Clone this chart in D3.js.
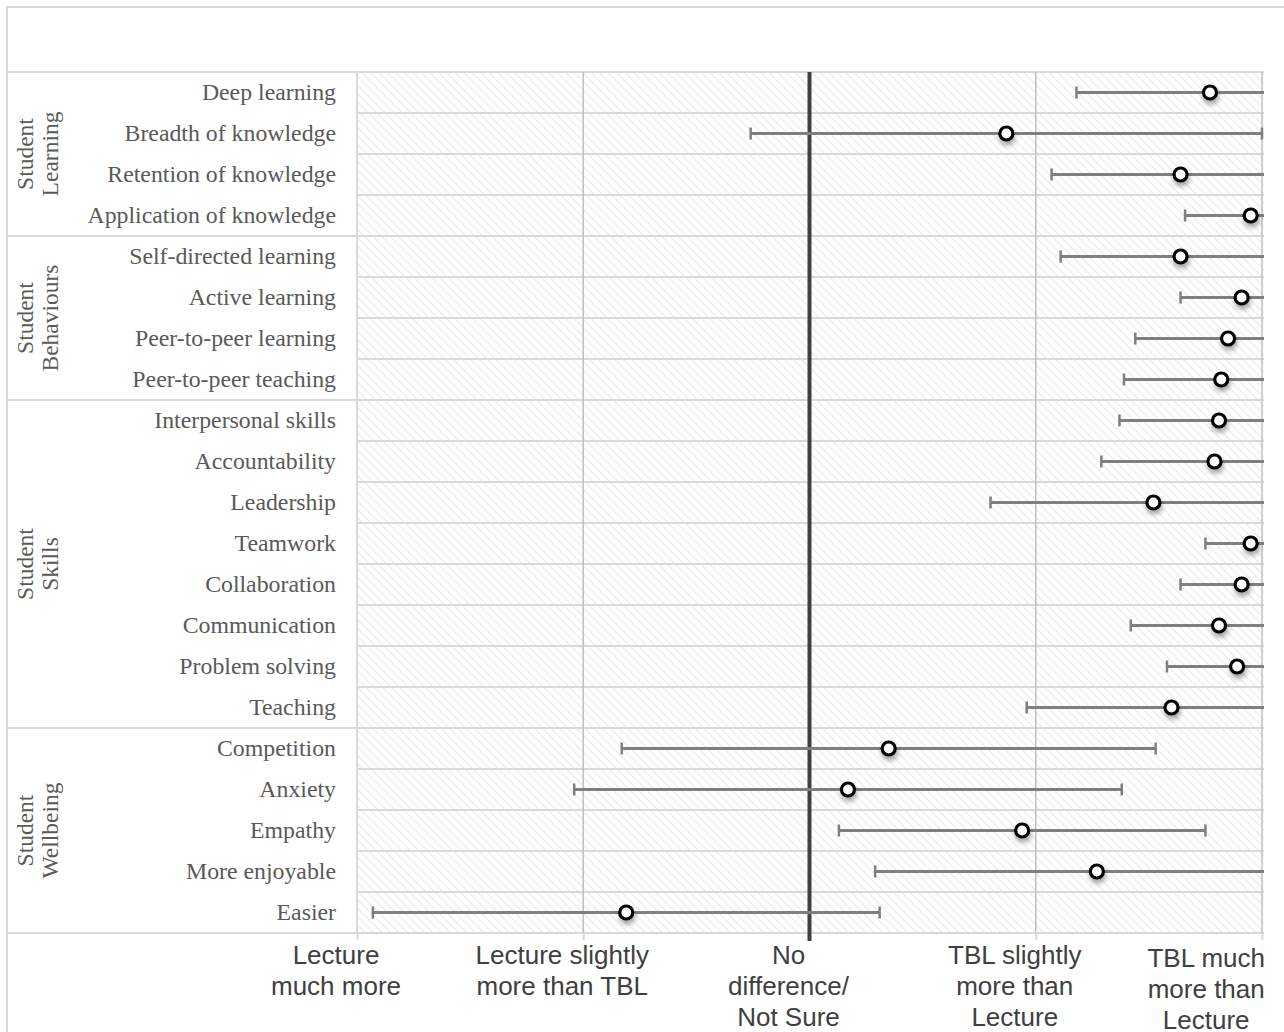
<!DOCTYPE html>
<html>
<head>
<meta charset="utf-8">
<script src="https://cdn.jsdelivr.net/npm/d3@7"></script>
<style>
  html, body { margin: 0; padding: 0; background: #fff; }
  svg { display: block; }
</style>
</head>
<body>
<div id="chart"></div>
<script>
// categories, top to bottom
const categories = [
  "Deep learning", "Breadth of knowledge", "Retention of knowledge", "Application of knowledge",
  "Self-directed learning", "Active learning", "Peer-to-peer learning", "Peer-to-peer teaching",
  "Interpersonal skills", "Accountability", "Leadership", "Teamwork", "Collaboration",
  "Communication", "Problem solving", "Teaching",
  "Competition", "Anxiety", "Empathy", "More enjoyable", "Easier"
];

// mean rating (1 = lecture much more ... 5 = TBL much more than lecture)
const means = [
  4.77, 3.87, 4.64, 4.95,
  4.64, 4.91, 4.85, 4.82,
  4.81, 4.79, 4.52, 4.95, 4.91, 4.81, 4.89, 4.60,
  3.35, 3.17, 3.94, 4.27, 2.19
];

// error bar half-width
const errors = [
  0.59, 1.13, 0.57, 0.29,
  0.53, 0.27, 0.41, 0.43,
  0.44, 0.50, 0.72, 0.20, 0.27, 0.39, 0.31, 0.64,
  1.18, 1.21, 0.81, 0.98, 1.12
];

const groupNames = [["Student", "Learning"], ["Student", "Behaviours"], ["Student", "Skills"], ["Student", "Wellbeing"]];
const groupSizes = [4, 4, 8, 5];

const tickValues = [1, 2, 3, 4, 5];
const tickLabels = [
  ["Lecture", "much more"],
  ["Lecture slightly", "more than TBL"],
  ["No", "difference/", "Not Sure"],
  ["TBL slightly", "more than", "Lecture"],
  ["TBL much", "more than", "Lecture"]
];

const W = 1284, H = 1032;
const mLeft = 357, mRight = 1262, mTop = 72, mBottom = 933;
const gridGray = "#d9d9d9";

const svg = d3.select("#chart").append("svg")
  .attr("width", W)
  .attr("height", H);

const defs = svg.append("defs");

// hatched background
const pat = defs.append("pattern")
  .attr("id", "hatch")
  .attr("width", 6)
  .attr("height", 6)
  .attr("patternUnits", "userSpaceOnUse")
  .attr("patternTransform", "rotate(-45)");
pat.append("rect").attr("width", 6).attr("height", 6).attr("fill", "#fff");
pat.append("line")
  .attr("x1", 0).attr("y1", 0).attr("x2", 0).attr("y2", 6)
  .attr("stroke", "#ebebeb")
  .attr("stroke-width", 2.5);

// marker shadow
const flt = defs.append("filter")
  .attr("id", "shadow")
  .attr("x", "-100%").attr("y", "-100%")
  .attr("width", "300%").attr("height", "300%");
flt.append("feDropShadow")
  .attr("dx", 1).attr("dy", 4)
  .attr("stdDeviation", 2.5)
  .attr("flood-color", "#000")
  .attr("flood-opacity", 0.35);

defs.append("clipPath").attr("id", "plotClip")
  .append("rect")
  .attr("x", mLeft - 2).attr("y", mTop)
  .attr("width", mRight - mLeft + 4).attr("height", mBottom - mTop);

const x = d3.scaleLinear().domain([1, 5]).range([mLeft, mRight]);
const y = d3.scaleBand().domain(categories).range([mTop, mBottom]);

// outer frame
svg.append("path")
  .attr("d", `M7,${H} V7 H${W}`)
  .attr("fill", "none")
  .attr("stroke", gridGray)
  .attr("stroke-width", 2);

// plot background
svg.append("rect")
  .attr("x", mLeft).attr("y", mTop)
  .attr("width", mRight - mLeft + 2).attr("height", mBottom - mTop)
  .attr("fill", "url(#hatch)");

// row separators inside the plot
svg.append("g")
  .selectAll("line")
  .data(categories.slice(1))
  .join("line")
  .attr("x1", mLeft).attr("x2", mRight + 2)
  .attr("y1", d => y(d)).attr("y2", d => y(d))
  .attr("stroke", gridGray)
  .attr("stroke-width", 2);

// group boundaries across the label area
const groupStarts = d3.cumsum([0].concat(groupSizes)).slice(0, groupSizes.length);
const boundaries = [0].concat(Array.from(d3.cumsum(groupSizes)));
svg.append("g")
  .selectAll("line")
  .data(boundaries)
  .join("line")
  .attr("x1", 7).attr("x2", mRight + 2)
  .attr("y1", i => i < categories.length ? y(categories[i]) : mBottom)
  .attr("y2", i => i < categories.length ? y(categories[i]) : mBottom)
  .attr("stroke", gridGray)
  .attr("stroke-width", 2);

// left edge of plot
svg.append("line")
  .attr("x1", mLeft).attr("x2", mLeft)
  .attr("y1", mTop).attr("y2", mBottom)
  .attr("stroke", gridGray)
  .attr("stroke-width", 2);

// vertical gridlines
svg.append("g")
  .selectAll("line")
  .data([2, 4, 5])
  .join("line")
  .attr("x1", d => x(d)).attr("x2", d => x(d))
  .attr("y1", mTop).attr("y2", mBottom)
  .attr("stroke", "#c0c0c0")
  .attr("stroke-width", 1.5);

// x axis
const xAxis = svg.append("g")
  .attr("transform", `translate(0,${mBottom})`)
  .call(d3.axisBottom(x).tickValues(tickValues).tickSize(7).tickFormat(""));
xAxis.select(".domain").remove();
xAxis.selectAll(".tick line").attr("stroke", gridGray).attr("stroke-width", 2);

const labelG = svg.append("g")
  .attr("font-family", "'Liberation Sans', Arial, sans-serif")
  .attr("font-size", 26)
  .attr("fill", "#404040")
  .attr("text-anchor", "middle");
tickValues.forEach((v, i) => {
  const t = labelG.append("text");
  t.selectAll("tspan")
    .data(tickLabels[i])
    .join("tspan")
    .attr("x", 0)
    .attr("y", (d, j) => 964 + j * 31 + (i === 4 ? 3 : 0))
    .text(d => d);
  const w = t.node().getBBox().width;
  const cx = Math.min(x(v) - 21, mRight + 3 - w / 2);
  t.selectAll("tspan").attr("x", cx);
});

// "no difference" reference line
svg.append("line")
  .attr("x1", x(3)).attr("x2", x(3))
  .attr("y1", mTop).attr("y2", mBottom + 8)
  .attr("stroke", "#404040")
  .attr("stroke-width", 4);

// category labels
const yAxis = svg.append("g")
  .attr("transform", `translate(${mLeft},0)`)
  .call(d3.axisLeft(y).tickSize(0).tickPadding(21));
yAxis.select(".domain").remove();
yAxis.selectAll("text")
  .attr("font-family", "'Liberation Serif', 'Times New Roman', serif")
  .attr("font-size", 23.8)
  .attr("fill", "#595959");

// group labels
const grp = svg.append("g")
  .attr("font-family", "'Liberation Serif', 'Times New Roman', serif")
  .attr("font-size", 23.5)
  .attr("fill", "#595959")
  .attr("text-anchor", "middle");
groupNames.forEach((lines, i) => {
  const y0 = y(categories[groupStarts[i]]);
  const y1 = y0 + groupSizes[i] * y.bandwidth();
  const cy = (y0 + y1) / 2;
  lines.forEach((s, j) => {
    grp.append("text")
      .attr("transform", `translate(${25 + j * 25},${cy}) rotate(-90)`)
      .attr("dy", "0.35em")
      .text(s);
  });
});

// error bars
const rows = categories.map((c, i) => ({ name: c, mean: means[i], err: errors[i] }));
const bars = svg.append("g").attr("clip-path", "url(#plotClip)");
bars.selectAll("line.bar")
  .data(rows)
  .join("line")
  .attr("class", "bar")
  .attr("x1", d => x(d.mean - d.err))
  .attr("x2", d => x(d.mean + d.err))
  .attr("y1", d => y(d.name) + y.bandwidth() / 2)
  .attr("y2", d => y(d.name) + y.bandwidth() / 2)
  .attr("stroke", "#7f7f7f")
  .attr("stroke-width", 3);

const caps = [];
rows.forEach(d => {
  [d.mean - d.err, d.mean + d.err].forEach(v => {
    if (v >= 1 && v <= 5) caps.push({ name: d.name, v });
  });
});
bars.selectAll("line.cap")
  .data(caps)
  .join("line")
  .attr("class", "cap")
  .attr("x1", d => x(d.v)).attr("x2", d => x(d.v))
  .attr("y1", d => y(d.name) + y.bandwidth() / 2 - 6)
  .attr("y2", d => y(d.name) + y.bandwidth() / 2 + 6)
  .attr("stroke", "#7f7f7f")
  .attr("stroke-width", 2.5);

// mean markers
svg.append("g")
  .selectAll("circle")
  .data(rows)
  .join("circle")
  .attr("cx", d => x(d.mean))
  .attr("cy", d => y(d.name) + y.bandwidth() / 2)
  .attr("r", 6.5)
  .attr("fill", "#fff")
  .attr("stroke", "#000")
  .attr("stroke-width", 3.2)
  .attr("filter", "url(#shadow)");
</script>
</body>
</html>
